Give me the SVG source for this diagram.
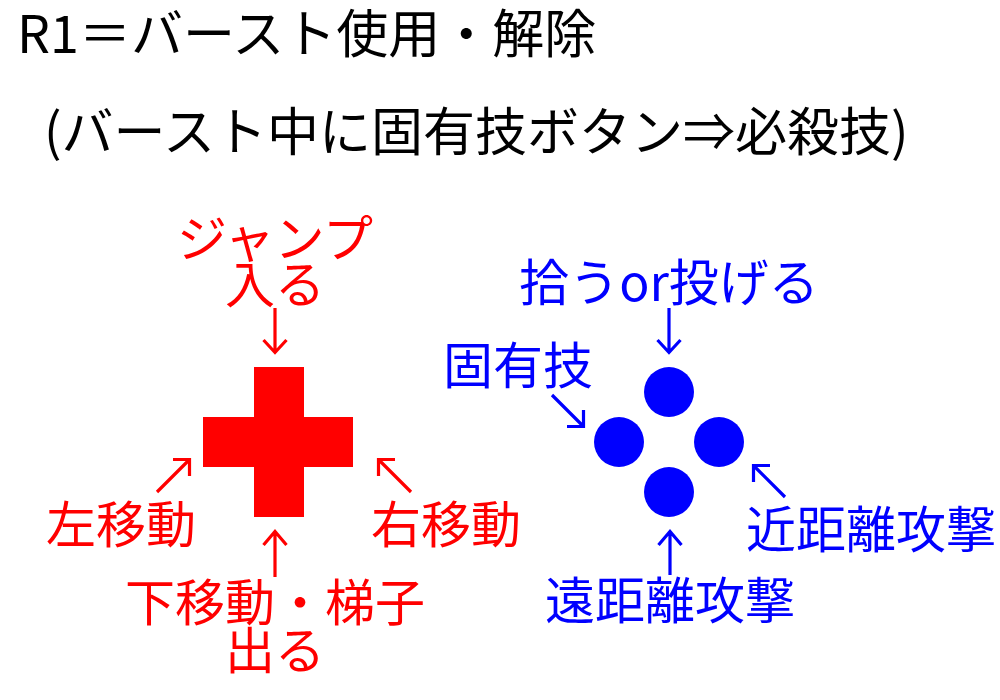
<svg xmlns="http://www.w3.org/2000/svg" width="1000" height="700" viewBox="0 0 1000 700">
<style>
text{font-family:"Noto Sans CJK JP","Noto Sans",sans-serif;font-size:50px}
.t{fill:#000;font-size:52px}
.r{fill:#FF0000;text-anchor:middle}
.b{fill:#0000FF;text-anchor:middle}
.ar{stroke:#FF0000;stroke-width:3.2;fill:none;stroke-linecap:butt}
.ab{stroke:#0000FF;stroke-width:3.2;fill:none;stroke-linecap:butt}
</style>
<rect width="1000" height="700" fill="#fff"/>
<g id="title">
<text class="t" x="17" y="53">R1＝バースト使用・解除</text>
<text class="t" x="44" y="151">(バースト中に固有技ボタン⇒必殺技)</text>
</g>
<g id="dpad">
<path d="M254 367H304V417H353V467H304V517H254V467H203V417H254Z" fill="#FF0000"/>
</g>
<g id="buttons" fill="#0000FF">
<circle id="btn-top" cx="669" cy="392" r="25"/>
<circle id="btn-left" cx="619" cy="442" r="25"/>
<circle id="btn-right" cx="719" cy="442" r="25"/>
<circle id="btn-bottom" cx="669" cy="492" r="25"/>
</g>
<g id="label-jump"><text class="r" x="275" y="257">ジャンプ</text><text class="r" x="275" y="303">入る</text></g>
<g id="label-left"><text class="r" x="121" y="543">左移動</text></g>
<g id="label-right"><text class="r" x="446" y="543">右移動</text></g>
<g id="label-down"><text class="r" x="275" y="621">下移動・梯子</text><text class="r" x="275" y="669">出る</text></g>
<g id="label-pick"><text class="b" x="669" y="301">拾うor投げる</text></g>
<g id="label-special"><text class="b" x="518" y="384">固有技</text></g>
<g id="label-melee"><text class="b" x="871" y="548">近距離攻撃</text></g>
<g id="label-ranged"><text class="b" x="670" y="619">遠距離攻撃</text></g>
<g id="connectors">
<path class="ar" d="M275 308V352M263.5 340L275 352.5L286.5 340"/>
<path class="ar" d="M157 492L189 460M173 459.5H189.5V476"/>
<path class="ar" d="M411 492L379 460M395 459.5H378.5V476"/>
<path class="ar" d="M275 577V532M263.5 545L275 531.5L286.5 545"/>
<path class="ab" d="M669 308V352M657.5 340L669 352.5L680.5 340"/>
<path class="ab" d="M552 395L583 426M567 426.5H583.5V410"/>
<path class="ab" d="M785 497L754 466M770 465.5H753.5V482"/>
<path class="ab" d="M670 575V533M658.5 545L670 531.5L681.5 545"/>
</g>
</svg>
